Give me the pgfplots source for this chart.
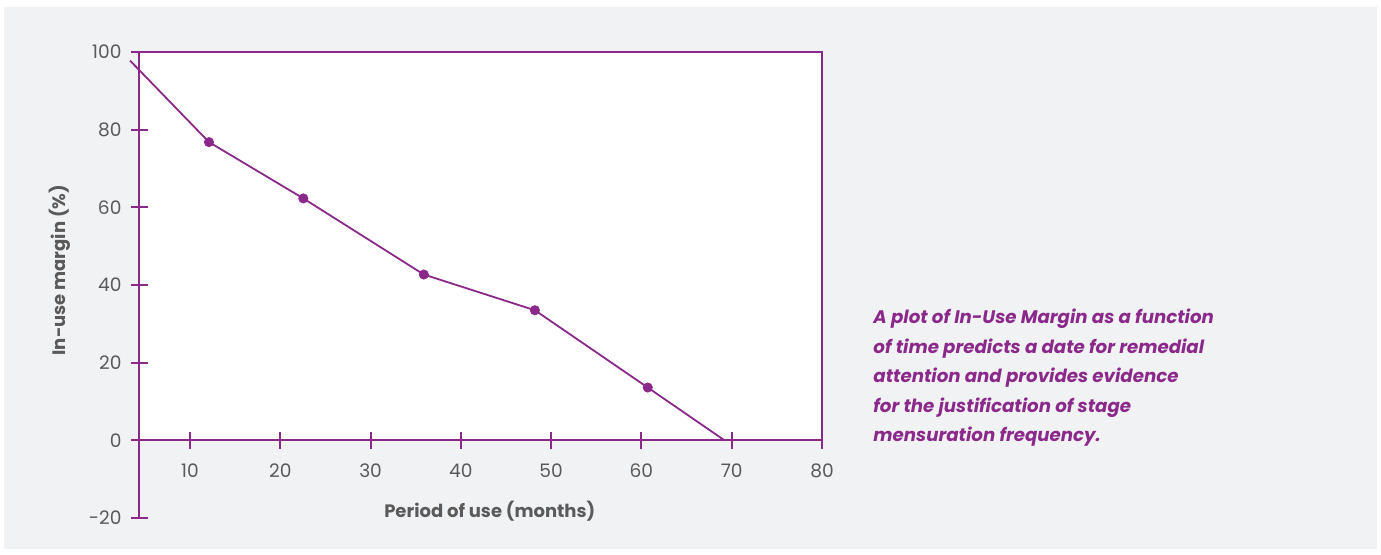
\documentclass[border=0pt]{standalone}
\usepackage{pgfplots}
\pgfplotsset{compat=1.18}
\usepackage{fontspec}
\setmainfont{Poppins}
\definecolor{plum}{RGB}{139,41,139}
\definecolor{bggray}{RGB}{241,242,244}
\definecolor{txtgray}{RGB}{90,90,90}

\begin{document}
\begin{tikzpicture}[x=1pt,y=1pt]
  \fill[white] (0,0) rectangle (690.5,277);
  \fill[bggray] (2,2.5) rectangle (688.5,273.5);
  \useasboundingbox (0,0) rectangle (690.5,277);
  \begin{axis}[
      at={(69.5pt,18pt)}, anchor=south west,
      scale only axis,
      width=341.5pt, height=233pt,
      xmin=4.35, xmax=80, ymin=-20, ymax=100,
      axis x line=middle, axis y line=left,
      axis line style={plum, line width=1pt, -},
      axis on top,
      xtick={10,20,...,80},
      ytick={-20,0,...,100},
      yticklabels={-20,0,20,40,60,80,100},
      tick align=center,
      major tick length=8.5pt,
      tick style={plum, line width=1pt},
      tick label style={font=\fontsize{9.3}{10}\selectfont, text=txtgray},
      /pgf/number format/assume math mode=true,
      xticklabel style={yshift=-4pt},
      yticklabel style={xshift=-1pt},
      clip=false,
    ]
    % white plot box
    \fill[white] (axis cs:4.35,0) rectangle (axis cs:80,100);
    \draw[plum, line width=1pt] (axis cs:4.35,100) -- (axis cs:80,100) -- (axis cs:80,0);

    % margin line
    \addplot[plum, line width=0.9pt, no marks] coordinates {
      (3.35,97.8) (12.1,76.8) (22.55,62.3) (35.9,42.7) (48.2,33.5) (60.7,13.6) (69.2,0)
    };
    \addplot[only marks, mark=*, mark size=2.3pt, plum] coordinates {
      (12.1,76.8) (22.55,62.3) (35.9,42.7) (48.2,33.5) (60.7,13.6)
    };

    \node[font=\fontsize{9}{10}\selectfont\bfseries, text=txtgray] at (axis cs:43.2,-18.2) {Period of use (months)};
    \node[font=\fontsize{9}{10}\selectfont\bfseries, text=txtgray, rotate=90] at (axis cs:-4.4,43.8) {In-use margin (\%)};
  \end{axis}
  \node[anchor=north west, align=left, text=plum,
        font=\fontsize{9.1}{14.75}\selectfont\bfseries\itshape, inner sep=0pt]
    at (436.5,122.5) {A plot of In-Use Margin as a function\\
      of time predicts a date for remedial\\
      attention and provides evidence\\
      for the justification of stage\\
      mensuration frequency.};
\end{tikzpicture}
\end{document}
